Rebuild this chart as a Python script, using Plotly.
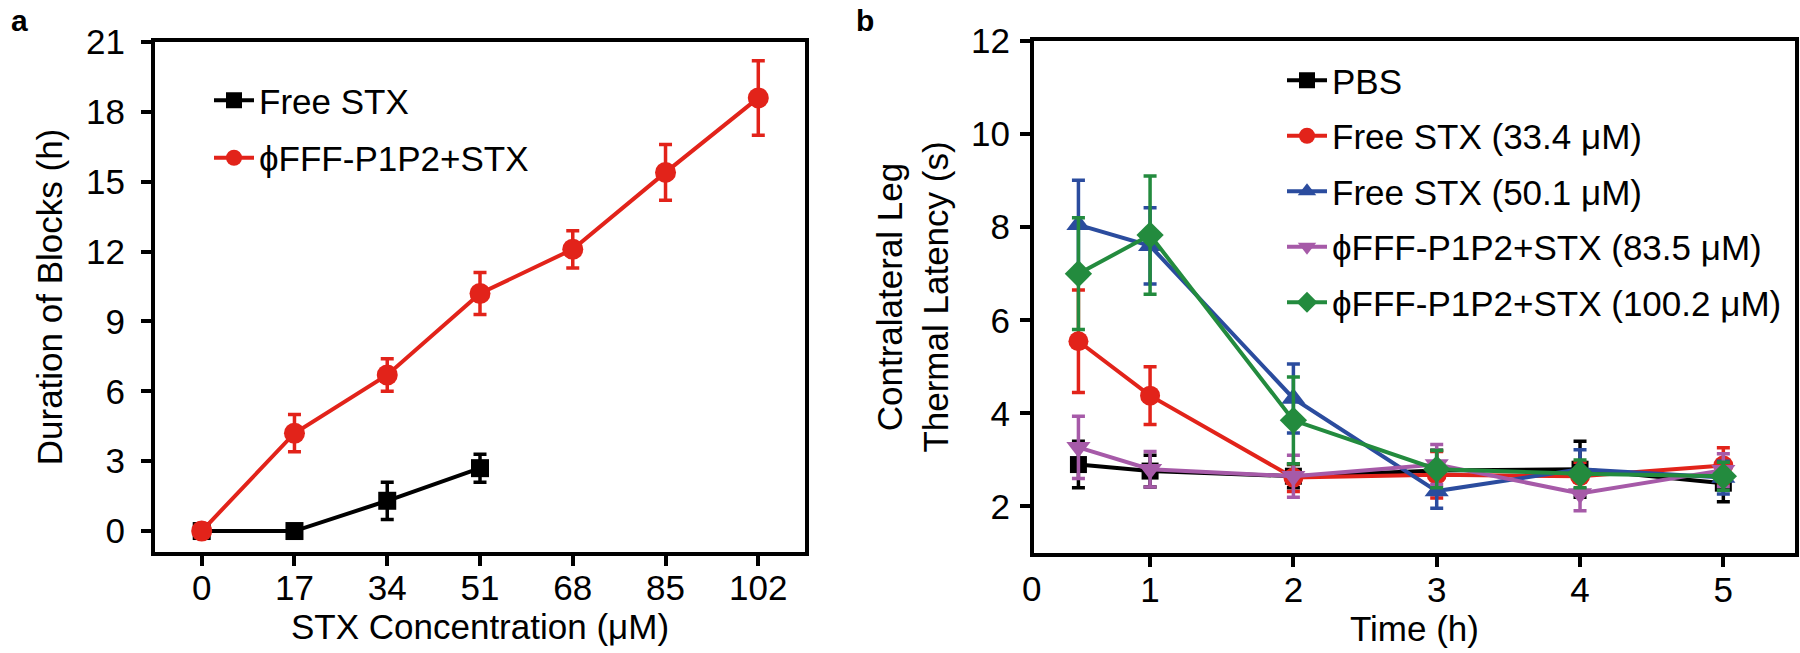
import plotly.graph_objects as go

W, H = 1800, 653

# ---------- Panel a data ----------
conc_free = [0, 17, 34, 51]
free_stx = [0, 0, 1.3, 2.7]
free_stx_err = [0, 0, 0.8, 0.6]

conc_fff = [0, 17, 34, 51, 68, 85, 102]
fff_stx = [0, 4.2, 6.7, 10.2, 12.1, 15.4, 18.6]
fff_stx_err = [0, 0.8, 0.7, 0.9, 0.8, 1.2, 1.6]

x_ticks_a = [0, 17, 34, 51, 68, 85, 102]
y_ticks_a = [0, 3, 6, 9, 12, 15, 18, 21]

# ---------- Panel b data ----------
time_h = [0.5, 1, 2, 3, 4, 5]
pbs = [2.9, 2.76, 2.65, 2.77, 2.8, 2.5]
pbs_err = [0.5, 0.34, 0.25, 0.44, 0.6, 0.4]
free_334 = [5.55, 4.38, 2.62, 2.68, 2.65, 2.88]
free_334_err = [1.1, 0.62, 0.3, 0.5, 0.3, 0.38]
free_501 = [8.05, 7.6, 4.32, 2.33, 2.8, 2.62]
free_501_err = [0.96, 0.82, 0.74, 0.37, 0.42, 0.35]
fff_835 = [3.27, 2.8, 2.65, 2.9, 2.28, 2.78]
fff_835_err = [0.67, 0.38, 0.45, 0.43, 0.37, 0.35]
fff_1002 = [7.0, 7.83, 3.85, 2.8, 2.7, 2.65]
fff_1002_err = [1.2, 1.27, 0.93, 0.4, 0.3, 0.3]

x_ticks_b = [1, 2, 3, 4, 5]
y_ticks_b = [2, 4, 6, 8, 10, 12]

RED = "#E2231A"
BLUE = "#2B4C9E"
PURPLE = "#A65AA8"
GREEN = "#238B3E"
BLACK = "#000000"

FONT = "Liberation Sans, Arial, sans-serif"
FS = 35

fig = go.Figure()


def add(x, y, err, name, color, symbol, size, xa, ya, legend, group):
    fig.add_trace(go.Scatter(
        x=x, y=y, name=name, mode="lines+markers",
        line=dict(color=color, width=4),
        marker=dict(symbol=symbol, size=size, color=color),
        error_y=dict(type="data", array=err, color=color, thickness=3.5, width=6.5),
        xaxis=xa, yaxis=ya, legend=legend, legendgroup=group,
        cliponaxis=False,
    ))


add(conc_free, free_stx, free_stx_err, "Free STX", BLACK, "square", 18, "x", "y", "legend", "a1")
add(conc_fff, fff_stx, fff_stx_err, "\u03d5FFF-P1P2+STX", RED, "circle", 21, "x", "y", "legend", "a2")

add(time_h, pbs, pbs_err, "PBS", BLACK, "square", 17, "x2", "y2", "legend2", "b1")
add(time_h, free_334, free_334_err, "Free STX (33.4 \u03bcM)", RED, "circle", 20, "x2", "y2", "legend2", "b2")
add(time_h, free_501, free_501_err, "Free STX (50.1 \u03bcM)", BLUE, "triangle-up", 21, "x2", "y2", "legend2", "b3")
add(time_h, fff_835, fff_835_err, "\u03d5FFF-P1P2+STX (83.5 \u03bcM)", PURPLE, "triangle-down", 21, "x2", "y2", "legend2", "b4")
add(time_h, fff_1002, fff_1002_err, "\u03d5FFF-P1P2+STX (100.2 \u03bcM)", GREEN, "diamond", 21, "x2", "y2", "legend2", "b5")

axis_common = dict(
    showline=True, linewidth=4, linecolor="black", mirror=True,
    ticks="outside", ticklen=10, tickwidth=4, tickcolor="black",
    showgrid=False, zeroline=False, automargin=False,
    tickfont=dict(family=FONT, size=FS, color="black"),
)


def px_x(p):
    return p / W


def px_y(p):
    return 1 - p / H


fig.update_layout(
    width=W, height=H,
    margin=dict(l=0, r=0, t=0, b=0, autoexpand=False),
    paper_bgcolor="white", plot_bgcolor="white",
    font=dict(family=FONT, size=FS, color="black"),
    showlegend=True,
    xaxis=dict(axis_common, domain=[px_x(155), px_x(805)], range=[-8.56, 110.56],
               tickvals=x_ticks_a, ticklabelstandoff=-8,
               title=dict(text="STX Concentration (\u03bcM)", font=dict(size=FS), standoff=8)),
    yaxis=dict(axis_common, domain=[px_y(552), px_y(42)], range=[-0.9, 21],
               tickvals=y_ticks_a, ticklabelstandoff=9,
               title=dict(text="Duration of Blocks (h)", font=dict(size=FS), standoff=14)),
    xaxis2=dict(axis_common, domain=[px_x(1034), px_x(1795)], range=[0.19, 5.5],
                tickvals=x_ticks_b, ticklabelstandoff=-7, anchor="y2",
                title=dict(text="Time (h)", font=dict(size=FS), standoff=8)),
    yaxis2=dict(axis_common, domain=[px_y(553), px_y(41)], range=[1, 12],
                tickvals=y_ticks_b, ticklabelstandoff=3, anchor="x2",
                title=dict(text="Contralateral Leg<br>Thermal Latency (s)", font=dict(size=FS), standoff=13)),
    legend=dict(x=px_x(209), y=px_y(71), xanchor="left", yanchor="top",
                bgcolor="rgba(0,0,0,0)", font=dict(size=FS), tracegroupgap=9,
                itemwidth=40),
    legend2=dict(x=px_x(1282), y=px_y(51), xanchor="left", yanchor="top",
                 bgcolor="rgba(0,0,0,0)", font=dict(size=FS), tracegroupgap=7,
                 itemwidth=40),
    annotations=[
        dict(text="<b>a</b>", x=px_x(9), y=px_y(20), xref="paper", yref="paper",
             xanchor="left", yanchor="middle", showarrow=False,
             font=dict(size=30, family=FONT)),
        dict(text="<b>b</b>", x=px_x(854), y=px_y(20), xref="paper", yref="paper",
             xanchor="left", yanchor="middle", showarrow=False,
             font=dict(size=30, family=FONT)),
        dict(text="0", x=px_x(1031), y=px_y(588), xref="paper", yref="paper",
             xanchor="center", yanchor="middle", showarrow=False, font=dict(size=FS)),
    ],
)

fig.write_html(
    "out.html",
    config={"displayModeBar": False},
    post_script="document.body.style.margin='0';document.body.style.overflow='hidden';",
)
